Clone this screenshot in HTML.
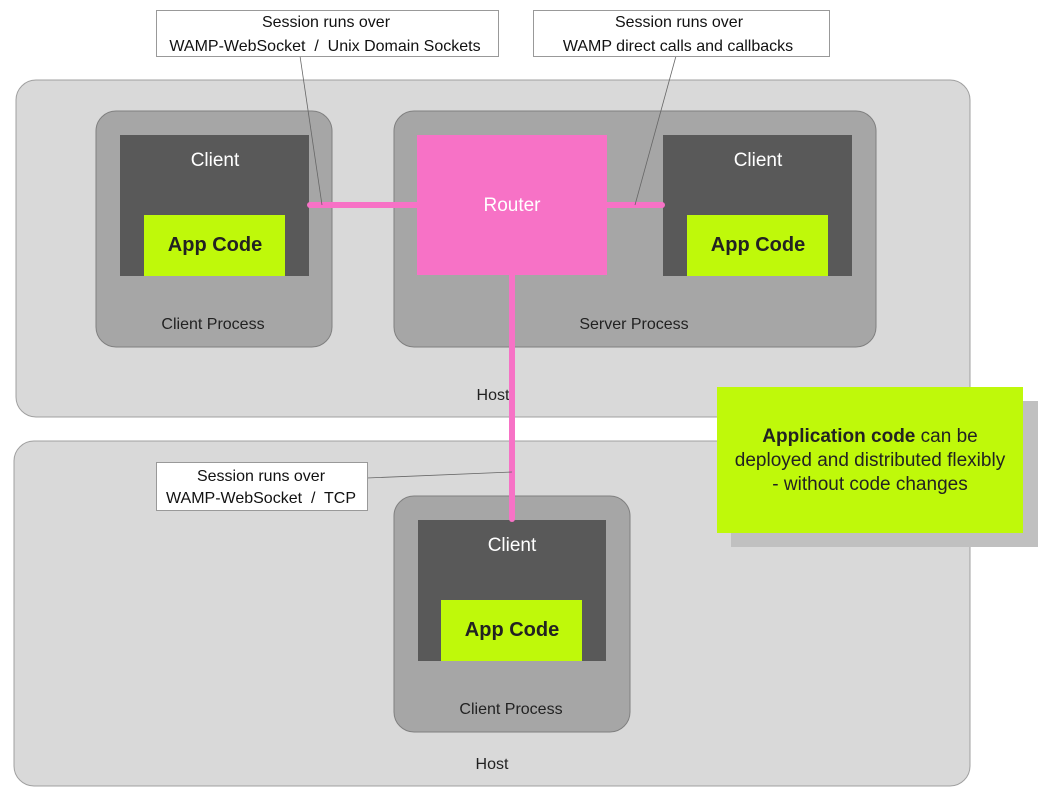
<!DOCTYPE html>
<html><head><meta charset="utf-8"><style>body{margin:0;background:#fff}svg{display:block}text{font-family:"Liberation Sans",sans-serif}</style></head><body>
<svg width="1045" height="798" viewBox="0 0 1045 798" xmlns="http://www.w3.org/2000/svg">
<rect x="16" y="80" width="954" height="337" rx="20" fill="#d9d9d9" stroke="#a0a0a0"/>
<rect x="14" y="441" width="956" height="345" rx="20" fill="#d9d9d9" stroke="#a0a0a0"/>
<text x="493" y="400" font-size="16" text-anchor="middle" fill="#222">Host</text>
<text x="492" y="769" font-size="16" text-anchor="middle" fill="#222">Host</text>
<rect x="96" y="111" width="236" height="236" rx="20" fill="#a6a6a6" stroke="#808080"/>
<rect x="394" y="111" width="482" height="236" rx="20" fill="#a6a6a6" stroke="#808080"/>
<rect x="394" y="496" width="236" height="236" rx="20" fill="#a6a6a6" stroke="#808080"/>
<text x="213" y="329" font-size="16" text-anchor="middle" fill="#222">Client Process</text>
<text x="634" y="329" font-size="16" text-anchor="middle" fill="#222">Server Process</text>
<text x="511" y="714" font-size="16" text-anchor="middle" fill="#222">Client Process</text>
<rect x="120" y="135" width="189" height="141" fill="#595959"/>
<rect x="663" y="135" width="189" height="141" fill="#595959"/>
<rect x="418" y="520" width="188" height="141" fill="#595959"/>
<text x="215" y="166" font-size="19" text-anchor="middle" fill="#fff">Client</text>
<text x="758" y="166" font-size="19" text-anchor="middle" fill="#fff">Client</text>
<text x="512" y="551" font-size="19" text-anchor="middle" fill="#fff">Client</text>
<rect x="144" y="215" width="141" height="61" fill="#bff90a"/>
<rect x="687" y="215" width="141" height="61" fill="#bff90a"/>
<rect x="441" y="600" width="141" height="61" fill="#bff90a"/>
<text x="215" y="251" font-size="20" font-weight="bold" text-anchor="middle" fill="#222">App Code</text>
<text x="758" y="251" font-size="20" font-weight="bold" text-anchor="middle" fill="#222">App Code</text>
<text x="512" y="636" font-size="20" font-weight="bold" text-anchor="middle" fill="#222">App Code</text>
<rect x="417" y="135" width="190" height="140" fill="#f772c6"/>
<text x="512" y="211" font-size="19" text-anchor="middle" fill="#fff">Router</text>
<g stroke="#f772c6" stroke-width="6" stroke-linecap="round">
<line x1="310" y1="205" x2="417" y2="205"/>
<line x1="607" y1="205" x2="662" y2="205"/>
<line x1="512" y1="275" x2="512" y2="519"/>
</g>
<g stroke="#666" stroke-width="0.8">
<line x1="300" y1="56" x2="322" y2="205"/>
<line x1="676" y1="56" x2="635" y2="205"/>
<line x1="367" y1="478" x2="512" y2="472"/>
</g>
<rect x="156.5" y="10.5" width="342" height="46" fill="#fff" stroke="#999"/>
<text x="326" y="27" font-size="16" text-anchor="middle" fill="#111">Session runs over</text>
<text x="325" y="51" font-size="16" text-anchor="middle" fill="#111" xml:space="preserve">WAMP-WebSocket  /  Unix Domain Sockets</text>
<rect x="533.5" y="10.5" width="296" height="46" fill="#fff" stroke="#999"/>
<text x="679" y="27" font-size="16" text-anchor="middle" fill="#111">Session runs over</text>
<text x="678" y="51" font-size="16" text-anchor="middle" fill="#111">WAMP direct calls and callbacks</text>
<rect x="156.5" y="462.5" width="211" height="48" fill="#fff" stroke="#999"/>
<text x="261" y="481" font-size="16" text-anchor="middle" fill="#111">Session runs over</text>
<text x="261" y="503" font-size="16" text-anchor="middle" fill="#111" xml:space="preserve">WAMP-WebSocket  /  TCP</text>
<rect x="731" y="401" width="307" height="146" fill="#c0c0c0"/>
<rect x="717" y="387" width="306" height="146" fill="#bff90a"/>
<text x="870" y="442" font-size="19" text-anchor="middle" fill="#222"><tspan font-weight="bold">Application code</tspan> can be</text>
<text x="870" y="466" font-size="19" text-anchor="middle" fill="#222">deployed and distributed flexibly</text>
<text x="870" y="490" font-size="19" text-anchor="middle" fill="#222">- without code changes</text>
</svg>
</body></html>
